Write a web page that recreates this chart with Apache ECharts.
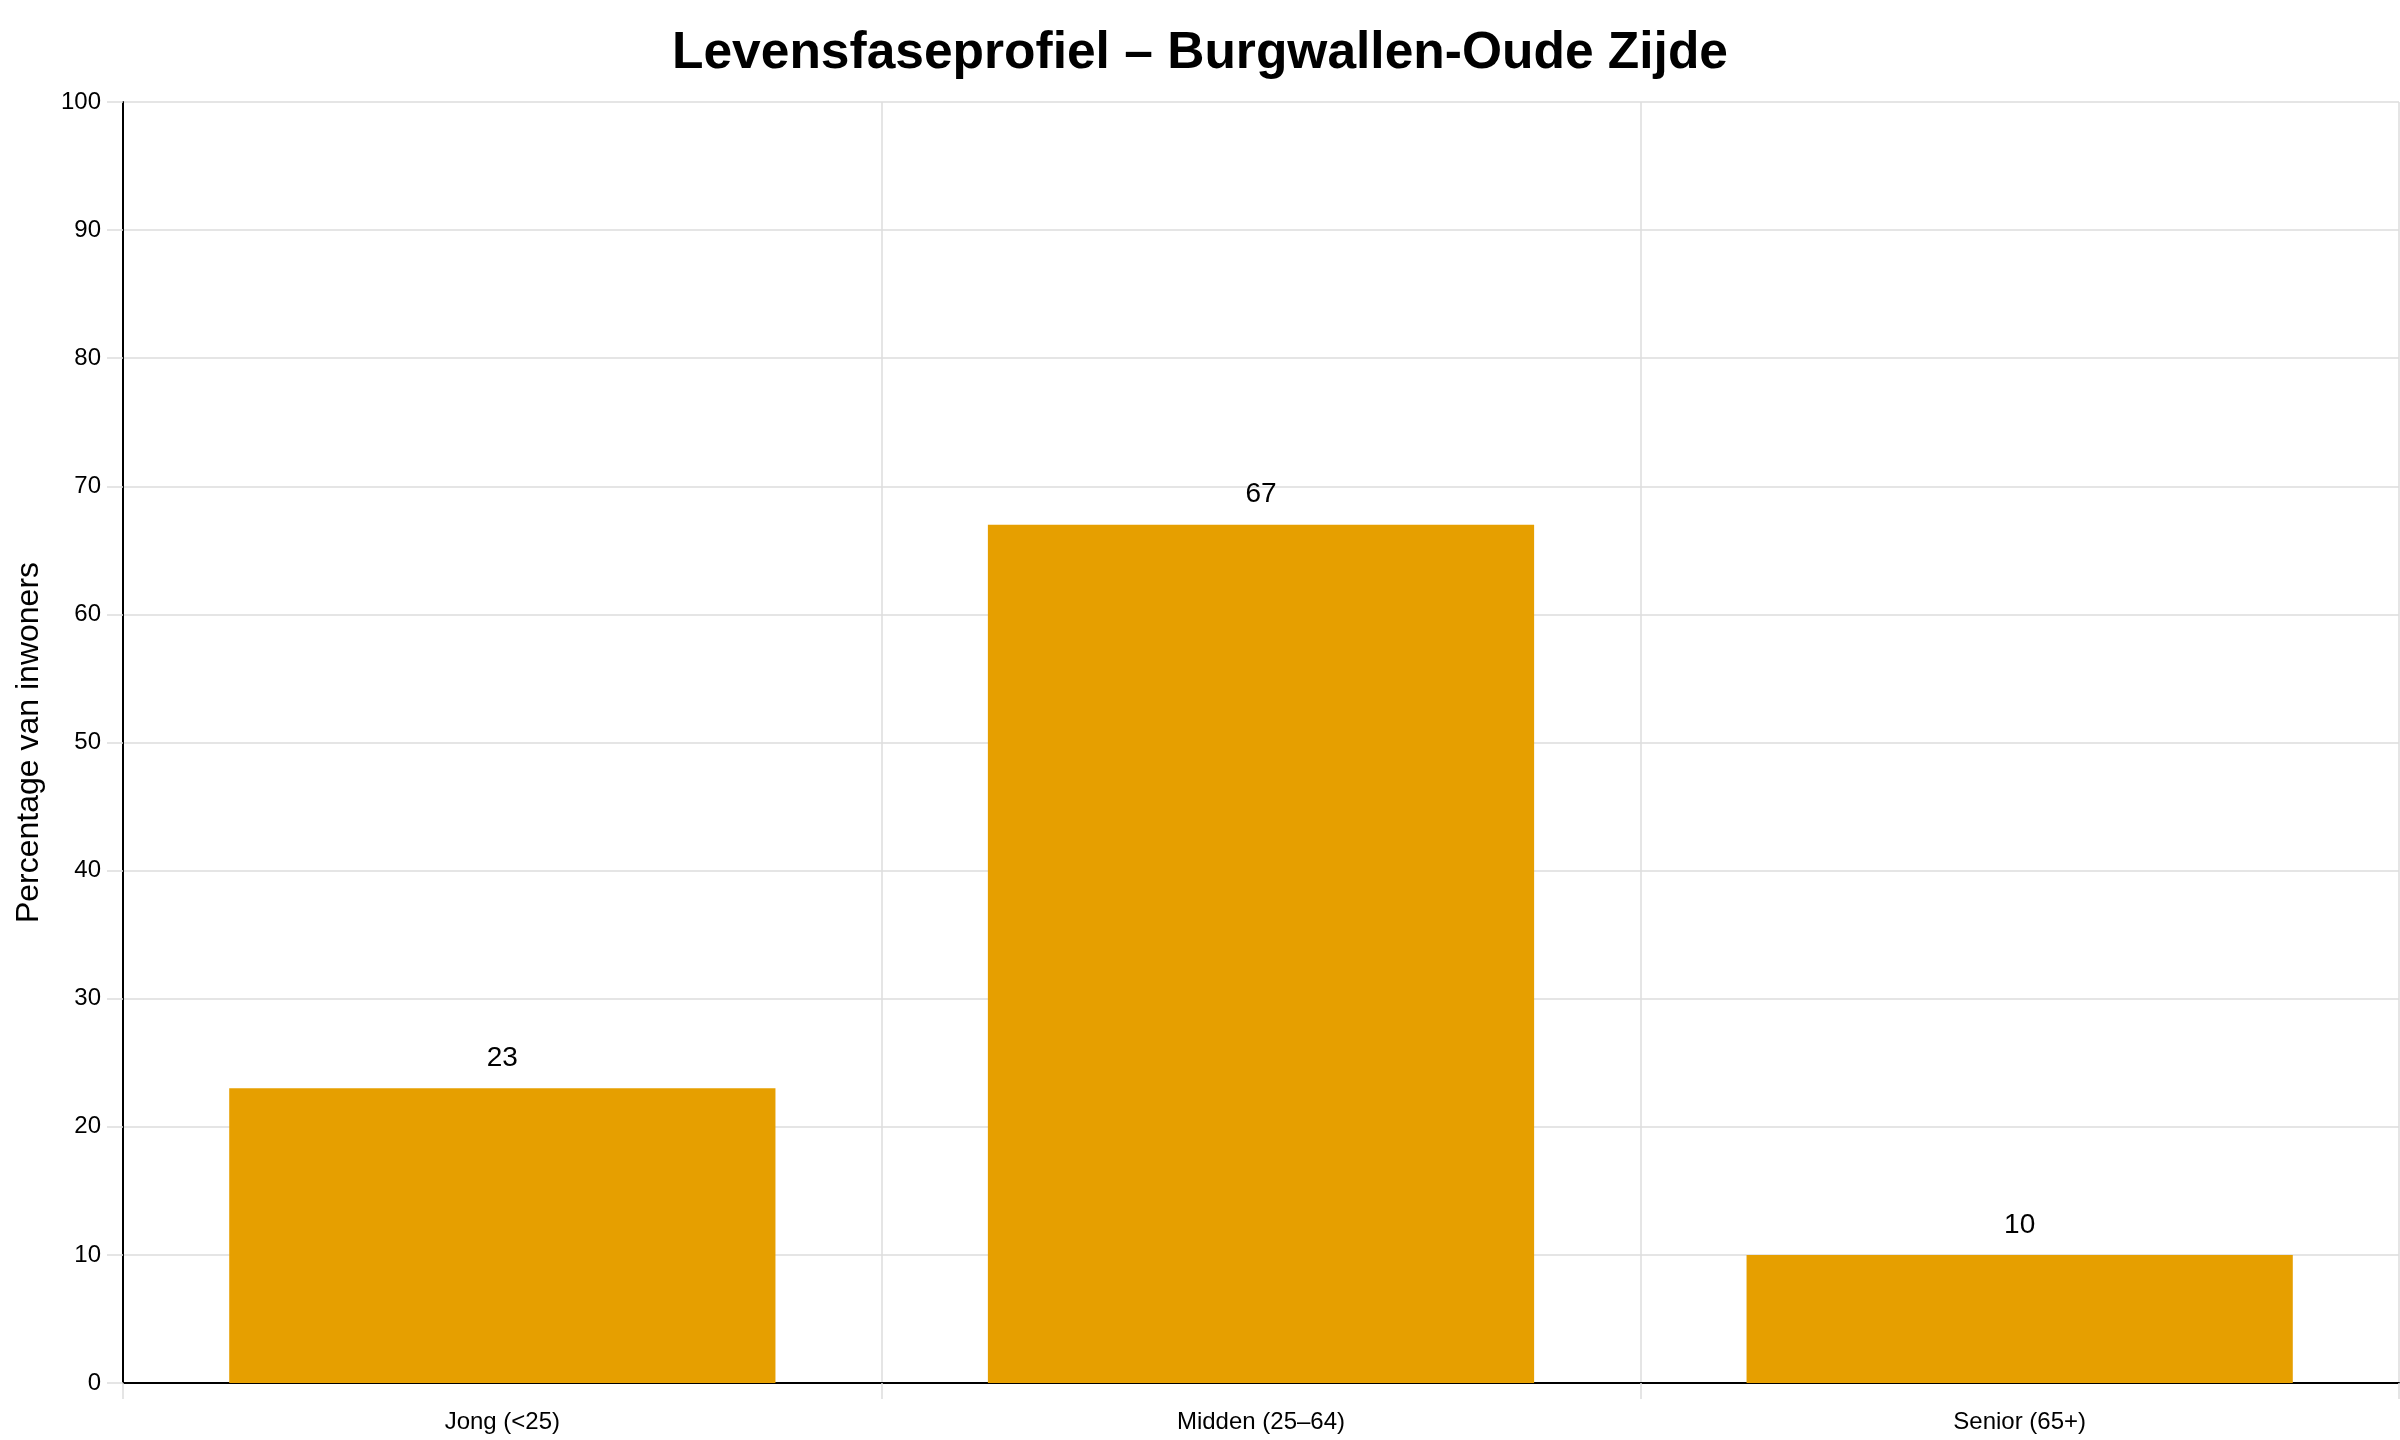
<!DOCTYPE html>
<html>
<head>
<meta charset="utf-8">
<style>
  html, body { margin: 0; padding: 0; background: #ffffff; }
  #chart { width: 2400px; height: 1440px; }
</style>
<script src="https://cdn.jsdelivr.net/npm/echarts@6/dist/echarts.min.js"></script>
</head>
<body>
<div id="chart"></div>
<script>
const titleText = 'Levensfaseprofiel – Burgwallen-Oude Zijde';
const categories = ['Jong (<25)', 'Midden (25–64)', 'Senior (65+)'];
const values = [23, 67, 10];
const yAxisName = 'Percentage van inwoners';
const yMin = 0, yMax = 100, yInterval = 10;

const chart = echarts.init(document.getElementById('chart'), null, { renderer: 'canvas' });
const font = '"Liberation Sans", Arial, sans-serif';
chart.setOption({
  backgroundColor: '#ffffff',
  animation: false,
  title: {
    text: titleText,
    left: 'center',
    top: 23,
    textStyle: { fontFamily: font, fontSize: 51.5, fontWeight: 'bold', color: '#000000' }
  },
  grid: { left: 123, right: 1, top: 102, bottom: 57, containLabel: false },
  xAxis: {
    type: 'category',
    data: categories,
    boundaryGap: true,
    axisLine: { show: true, onZero: false, lineStyle: { color: '#000000', width: 2 } },
    axisTick: { show: true, alignWithLabel: false, length: 16, lineStyle: { color: '#dddddd', width: 1.5 } },
    axisLabel: { margin: 27, fontFamily: font, fontSize: 24, color: '#000000' },
    splitLine: { show: true, lineStyle: { color: '#dddddd', width: 1.5 } }
  },
  yAxis: {
    type: 'value',
    min: yMin, max: yMax, interval: yInterval,
    name: yAxisName,
    nameLocation: 'middle',
    nameGap: 78,
    nameTextStyle: { fontFamily: font, fontSize: 32, color: '#000000' },
    axisLine: { show: true, lineStyle: { color: '#000000', width: 2 } },
    axisTick: { show: true, length: 16, lineStyle: { color: '#dddddd', width: 1.5 } },
    axisLabel: { margin: 22, fontFamily: font, fontSize: 24, color: '#000000', padding: [3, 0, 0, 0] },
    splitLine: { show: true, lineStyle: { color: '#dddddd', width: 1.5 } }
  },
  series: [{
    type: 'bar',
    data: values,
    barWidth: '72%',
    itemStyle: { color: '#E69F00' },
    label: {
      show: true,
      position: 'top',
      distance: 16,
      fontFamily: font,
      fontSize: 28,
      color: '#000000'
    }
  }]
});
</script>
</body>
</html>
